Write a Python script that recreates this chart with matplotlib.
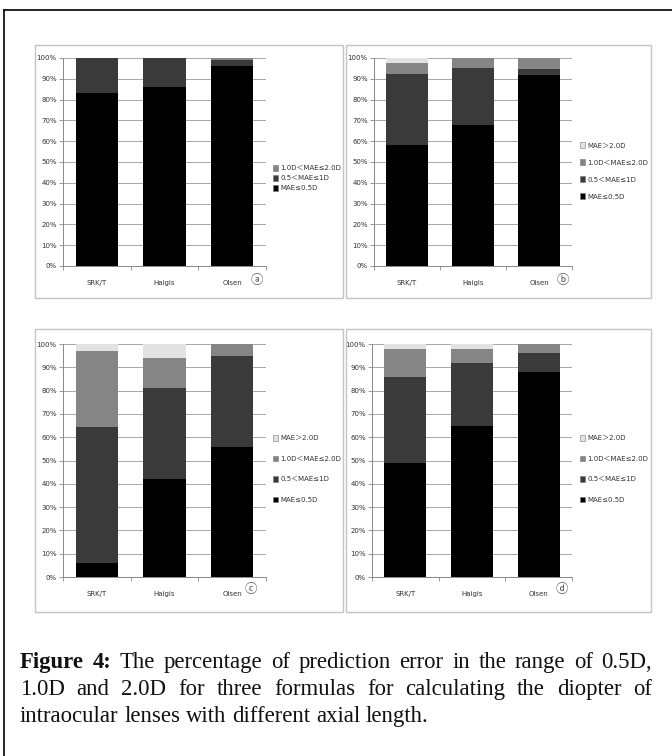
import matplotlib
matplotlib.use("Agg")
import matplotlib.pyplot as plt
from matplotlib.patches import Rectangle, Patch
from matplotlib.lines import Line2D

# ---------------- data ----------------
formulas = ["SRK/T", "Haigis", "Olsen"]
categories = ["MAE≤0.5D", "0.5＜MAE≤1D", "1.0D＜MAE≤2.0D", "MAE＞2.0D"]

a_le05 = [83, 86, 96]
a_05_1 = [17, 14, 3]
a_1_2 = [0, 0, 1]

b_le05 = [58, 68, 92]
b_05_1 = [34.5, 27, 2.5]
b_1_2 = [5, 5, 5.5]
b_gt2 = [2.5, 0, 0]

c_le05 = [6, 42, 56]
c_05_1 = [58.5, 39, 39]
c_1_2 = [32.5, 13, 5]
c_gt2 = [3, 6, 0]

d_le05 = [49, 65, 88]
d_05_1 = [37, 27, 8]
d_1_2 = [12, 6, 4]
d_gt2 = [2, 2, 0]

panel_letters = ["ⓐ", "ⓑ", "ⓒ", "ⓓ"]
yticks = [0, 10, 20, 30, 40, 50, 60, 70, 80, 90, 100]

caption_lines = [
    "The percentage of prediction error in the range of 0.5D,",
    "1.0D and 2.0D for three formulas for calculating the diopter of",
    "intraocular lenses with different axial length.",
]
caption_label = "Figure 4:"

# ---------------- style ----------------
colors = ["#000000", "#3a3a3a", "#858585", "#e2e2e2"]
W, H = 672, 756
fig = plt.figure(figsize=(W / 100, H / 100), dpi=100)
fig.patch.set_facecolor("white")


def frac_rect(l, r, t, b):
    return [l / W, 1 - b / H, (r - l) / W, (b - t) / H]


# outer frame (left and top lines)
fig.add_artist(Line2D([4 / W, 4 / W], [0, 1 - 10 / H], color="black", lw=1.2,
                      transform=fig.transFigure))
fig.add_artist(Line2D([4 / W, 1], [1 - 10 / H, 1 - 10 / H], color="black", lw=1.2,
                      transform=fig.transFigure))

# panel boxes
boxes = [(35, 343, 45, 298), (346, 651, 45, 298), (35, 343, 329, 612), (346, 651, 329, 612)]
for (l, r, t, b) in boxes:
    x, y, w, h = frac_rect(l, r, t, b)
    fig.add_artist(Rectangle((x, y), w, h, transform=fig.transFigure, fill=False,
                             edgecolor="#c4c4c4", lw=1.0))

axes_px = [(63, 266, 58, 266), (374, 572, 58, 266), (63, 266, 344, 577), (372, 572, 344, 577)]
data = [
    [a_le05, a_05_1, a_1_2],
    [b_le05, b_05_1, b_1_2, b_gt2],
    [c_le05, c_05_1, c_1_2, c_gt2],
    [d_le05, d_05_1, d_1_2, d_gt2],
]
legend_px = [(273, 178, 0.55), (580, 171, 1.55), (273, 469, 2.05), (580, 469, 2.05)]
letter_px = [(257, 281), (563, 281), (251, 589), (562, 589)]

fam = ["DejaVu Sans", "Noto Sans CJK SC"]

for i, (l, r, t, b) in enumerate(axes_px):
    ax = fig.add_axes(frac_rect(l, r, t, b))
    xs = list(range(len(formulas)))
    bottom = [0.0] * len(formulas)
    handles = []
    for k, series in enumerate(data[i]):
        ax.bar(xs, series, bottom=bottom, width=0.63, color=colors[k], edgecolor="none",
               zorder=3)
        bottom = [bo + s for bo, s in zip(bottom, series)]
        handles.append(Patch(facecolor=colors[k], edgecolor="#777777", lw=0.4,
                             label=categories[k]))
    ax.set_xlim(-0.5, len(formulas) - 0.5)
    ax.set_ylim(0, 100)
    ax.set_yticks(yticks)
    ax.set_yticklabels([f"{v}%" for v in yticks], fontsize=5, color="#333333")
    ax.set_xticks(xs)
    ax.set_xticklabels(formulas, fontsize=5, color="#333333")
    ax.set_xticks([-0.5, 0.5, 1.5, 2.5], minor=True)
    ax.tick_params(axis="x", which="major", length=0, pad=10)
    ax.tick_params(axis="x", which="minor", length=3, color="#888888", width=0.6)
    ax.tick_params(axis="y", length=3, color="#888888", width=0.6, pad=1.5)
    ax.grid(axis="y", color="#9a9a9a", lw=0.6, zorder=0)
    for s in ["top", "right"]:
        ax.spines[s].set_visible(False)
    for s in ["left", "bottom"]:
        ax.spines[s].set_color("#888888")
        ax.spines[s].set_linewidth(0.7)
    lx, ly, sp = legend_px[i]
    leg = fig.legend(handles=handles[::-1], loc="center left",
                     bbox_to_anchor=(lx / W, 1 - ly / H), frameon=False,
                     prop={"family": fam, "size": 5.0}, handlelength=0.7,
                     handleheight=0.9, handletextpad=0.35, labelspacing=sp,
                     borderpad=0, borderaxespad=0)
    for txt in leg.get_texts():
        txt.set_color("#333333")
    px, py = letter_px[i]
    fig.text(px / W, 1 - py / H, panel_letters[i], fontsize=9, ha="center", va="center",
             color="#555555", family=["Noto Sans CJK SC", "DejaVu Sans"])

# ---------------- caption (justified) ----------------
renderer = fig.canvas.get_renderer()
cap_left, cap_right = 20, 652
line_y = [668, 695, 722]
fs = 16.4
serif = "Liberation Serif"


def width_px(s, weight="normal"):
    t = fig.text(0, 0, s, fontsize=fs, family=serif, weight=weight)
    w = t.get_window_extent(renderer).width
    t.remove()
    return w


for li, line in enumerate(caption_lines):
    words = line.split(" ")
    items = [(w, "normal") for w in words]
    if li == 0:
        items = [(wd, "bold") for wd in caption_label.split(" ")] + items
    widths = [width_px(w, wt) for w, wt in items]
    if li < len(caption_lines) - 1:
        gap = (cap_right - cap_left - sum(widths)) / (len(items) - 1)
    else:
        gap = width_px("a b") - width_px("a") - width_px("b")
    x = cap_left
    for (w, wt), wd in zip(items, widths):
        fig.text(x / W, 1 - line_y[li] / H, w, fontsize=fs, family=serif, weight=wt,
                 va="baseline", ha="left", color="#111111")
        x += wd + gap

fig.savefig("out.png", dpi=100, facecolor="white")
